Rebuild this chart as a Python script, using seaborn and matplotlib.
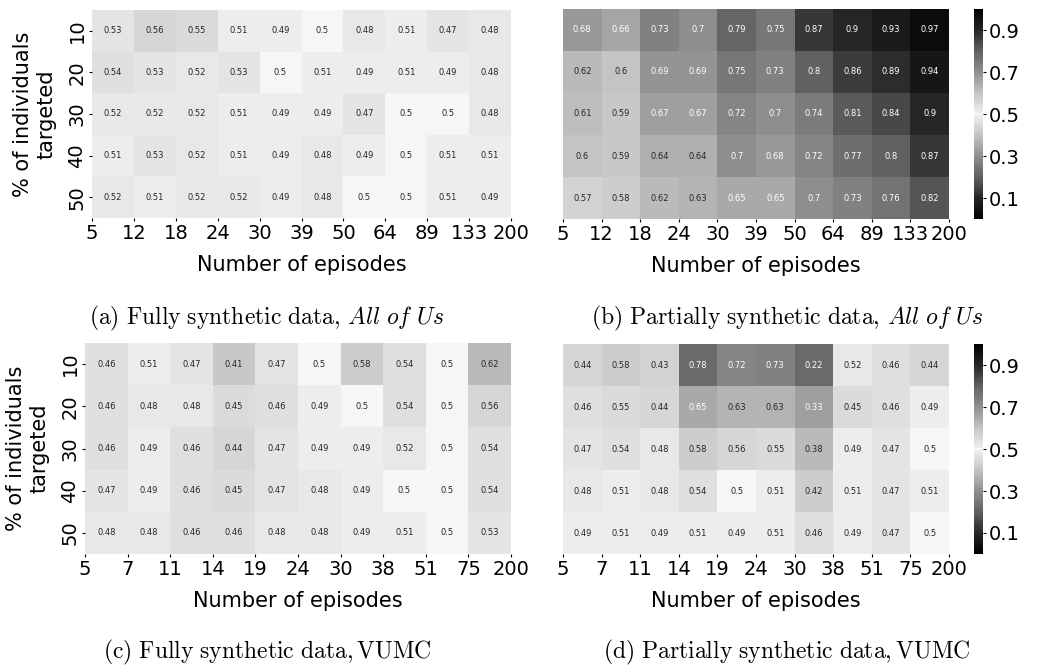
import numpy as np
import pandas as pd
import matplotlib
matplotlib.use("Agg")
import matplotlib.pyplot as plt
import seaborn as sns
from matplotlib.colors import LinearSegmentedColormap

plt.rcParams['mathtext.fontset'] = 'cm'

# row labels (% of individuals targeted)
targeted = [10, 20, 30, 40, 50]

# episode edges for All of Us and VUMC
episodes_aou = [5, 12, 18, 24, 30, 39, 50, 64, 89, 133, 200]
episodes_vumc = [5, 7, 11, 14, 19, 24, 30, 38, 51, 75, 200]

# (a) fully synthetic, All of Us
full_aou = [
    [0.53, 0.56, 0.55, 0.51, 0.49, 0.5, 0.48, 0.51, 0.47, 0.48],
    [0.54, 0.53, 0.52, 0.53, 0.5, 0.51, 0.49, 0.51, 0.49, 0.48],
    [0.52, 0.52, 0.52, 0.51, 0.49, 0.49, 0.47, 0.5, 0.5, 0.48],
    [0.51, 0.53, 0.52, 0.51, 0.49, 0.48, 0.49, 0.5, 0.51, 0.51],
    [0.52, 0.51, 0.52, 0.52, 0.49, 0.48, 0.5, 0.5, 0.51, 0.49],
]

# (b) partially synthetic, All of Us
partial_aou = [
    [0.68, 0.66, 0.73, 0.7, 0.79, 0.75, 0.87, 0.9, 0.93, 0.97],
    [0.62, 0.6, 0.69, 0.69, 0.75, 0.73, 0.8, 0.86, 0.89, 0.94],
    [0.61, 0.59, 0.67, 0.67, 0.72, 0.7, 0.74, 0.81, 0.84, 0.9],
    [0.6, 0.59, 0.64, 0.64, 0.7, 0.68, 0.72, 0.77, 0.8, 0.87],
    [0.57, 0.58, 0.62, 0.63, 0.65, 0.65, 0.7, 0.73, 0.76, 0.82],
]

# (c) fully synthetic, VUMC
full_vumc = [
    [0.46, 0.51, 0.47, 0.41, 0.47, 0.5, 0.58, 0.54, 0.5, 0.62],
    [0.46, 0.48, 0.48, 0.45, 0.46, 0.49, 0.5, 0.54, 0.5, 0.56],
    [0.46, 0.49, 0.46, 0.44, 0.47, 0.49, 0.49, 0.52, 0.5, 0.54],
    [0.47, 0.49, 0.46, 0.45, 0.47, 0.48, 0.49, 0.5, 0.5, 0.54],
    [0.48, 0.48, 0.46, 0.46, 0.48, 0.48, 0.49, 0.51, 0.5, 0.53],
]

# (d) partially synthetic, VUMC
partial_vumc = [
    [0.44, 0.58, 0.43, 0.78, 0.72, 0.73, 0.22, 0.52, 0.46, 0.44],
    [0.46, 0.55, 0.44, 0.65, 0.63, 0.63, 0.33, 0.45, 0.46, 0.49],
    [0.47, 0.54, 0.48, 0.58, 0.56, 0.55, 0.38, 0.49, 0.47, 0.5],
    [0.48, 0.51, 0.48, 0.54, 0.5, 0.51, 0.42, 0.51, 0.47, 0.51],
    [0.49, 0.51, 0.49, 0.51, 0.49, 0.51, 0.46, 0.49, 0.47, 0.5],
]

captions = [
    r"$\mathrm{(a)\ Fully\ synthetic\ data,}\,\mathit{All\ of\ Us}$",
    r"$\mathrm{(b)\ Partially\ synthetic\ data,}\,\mathit{All\ of\ Us}$",
    r"$\mathrm{(c)\ Fully\ synthetic\ data,VUMC}$",
    r"$\mathrm{(d)\ Partially\ synthetic\ data,VUMC}$",
]

# black -> white -> black, white only in a thin band at 0.5
nodes = [(0.0, 0.0), (0.1, 0.15), (0.2, 0.38), (0.3, 0.56), (0.4, 0.77), (0.49, 0.93),
         (0.497, 0.945), (0.5, 1.0)]
stops = nodes + [(1 - p, g) for p, g in reversed(nodes[:-1])]
cmap = LinearSegmentedColormap.from_list("bwb", [(p, (g, g, g)) for p, g in stops])

fig = plt.figure(figsize=(10.5, 6.68), dpi=100)
W, H = 1050, 668

def box(l, t, r, b):
    return [l / W, 1 - b / H, (r - l) / W, (b - t) / H]

panels = [
    (full_aou, episodes_aou, box(92, 10, 511, 218), None),
    (partial_aou, episodes_aou, box(563, 9, 949, 219), box(974, 9, 983, 219)),
    (full_vumc, episodes_vumc, box(85, 343, 511, 554), None),
    (partial_vumc, episodes_vumc, box(563, 344, 949, 554), box(974, 344, 983, 554)),
]
caption_pos = [(267, 318), (787, 318), (267, 652), (787, 652)]

for i, (vals, eps, pos, cpos) in enumerate(panels):
    ax = fig.add_axes(pos)
    df = pd.DataFrame(vals, index=targeted)
    if cpos is not None:
        cax = fig.add_axes(cpos)
        sns.heatmap(df, ax=ax, cmap=cmap, vmin=0, vmax=1, annot=True,
                    annot_kws={'size': 6}, cbar_ax=cax,
                    cbar_kws={'ticks': [0.1, 0.3, 0.5, 0.7, 0.9]})
        cax.tick_params(labelsize=14, length=2.5, pad=2)
    else:
        sns.heatmap(df, ax=ax, cmap=cmap, vmin=0, vmax=1, annot=True,
                    annot_kws={'size': 6}, cbar=False)
    ax.set_xticks(np.arange(len(eps)))
    ax.set_xticklabels(eps, rotation=0, fontsize=14)
    ax.tick_params(length=2.5, pad=1.5)
    ax.set_xlabel("Number of episodes", fontsize=15, labelpad=9)
    if i % 2 == 0:
        ax.set_yticklabels(targeted, rotation=90, va='center', fontsize=14)
        ax.set_ylabel("% of individuals\ntargeted", fontsize=15, labelpad=8)
    else:
        ax.set_yticks([])
        ax.set_ylabel("")
    cx, cy = caption_pos[i]
    fig.text(cx / W, 1 - cy / H, captions[i], fontsize=17, ha='center', va='center')

fig.savefig("out.png", dpi=100)
